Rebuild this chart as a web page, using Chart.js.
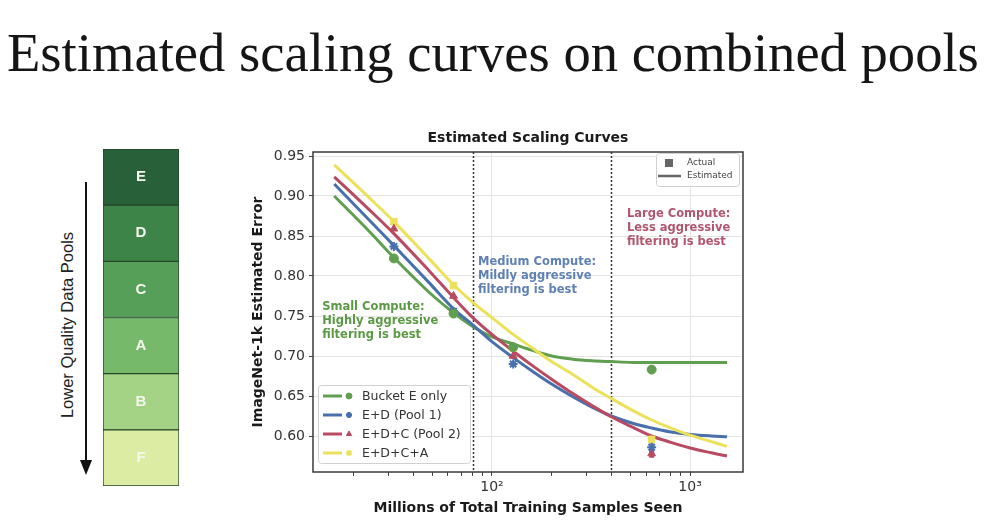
<!DOCTYPE html>
<html>
<head>
<meta charset="utf-8">
<script src="https://cdn.jsdelivr.net/npm/chart.js@4.4.0/dist/chart.umd.min.js"></script>
<style>
  html, body { margin: 0; padding: 0; background: #fff; }
  body { width: 1006px; height: 524px; position: relative; overflow: hidden; }
  #slideTitle {
    position: absolute; left: 7px; top: 21px; white-space: nowrap;
    font-family: "Liberation Serif", serif; font-size: 54.6px; color: #151515;
  }
  #poolCanvas { position: absolute; left: 102px; top: 148px; }
  #arrow { position: absolute; left: 85px; top: 182px; width: 2px; height: 280px; background: #111; }
  #arrowHead {
    position: absolute; left: 80px; top: 460px; width: 0; height: 0;
    border-left: 6px solid transparent; border-right: 6px solid transparent; border-top: 15px solid #111;
  }
  #poolLabel {
    position: absolute; left: 67px; top: 325px; transform: translate(-50%, -50%) rotate(-90deg);
    font-family: "Liberation Sans", sans-serif; font-size: 16.5px; color: #222; white-space: nowrap;
  }
  #scalingCanvas { position: absolute; left: 250px; top: 125px; }
</style>
</head>
<body>
<div id="slideTitle">Estimated scaling curves on combined pools</div>
<canvas id="poolCanvas" width="78" height="339"></canvas>
<div id="arrow"></div>
<div id="arrowHead"></div>
<div id="poolLabel">Lower Quality Data Pools</div>
<canvas id="scalingCanvas" width="500" height="399"></canvas>

<script>
// data pools, top to bottom
const pools = ['E', 'D', 'C', 'A', 'B', 'F'];
const poolShare = [1, 1, 1, 1, 1, 1];
const poolColors = ['#28603a', '#3d8449', '#559f59', '#77b96a', '#a4d386', '#dcedA3'];

// estimated curves (millions of samples -> error)
const fitSamples = [16, 24, 32, 48, 64, 80, 100, 128, 160, 200, 256, 320, 400, 512, 640, 800, 1000, 1280, 1536];
const fitBucketE = [0.900, 0.856, 0.823, 0.780, 0.754, 0.737, 0.724, 0.715, 0.707, 0.700, 0.696, 0.694, 0.693, 0.692, 0.692, 0.692, 0.692, 0.692, 0.692];
const fitPool1   = [0.915, 0.870, 0.838, 0.792, 0.759, 0.739, 0.718, 0.698, 0.681, 0.665, 0.649, 0.636, 0.625, 0.616, 0.610, 0.605, 0.602, 0.600, 0.599];
const fitPool2   = [0.924, 0.883, 0.853, 0.807, 0.773, 0.748, 0.727, 0.706, 0.688, 0.671, 0.653, 0.638, 0.624, 0.611, 0.600, 0.592, 0.585, 0.579, 0.575];
const fitPool3   = [0.939, 0.898, 0.868, 0.822, 0.789, 0.767, 0.748, 0.727, 0.710, 0.693, 0.677, 0.661, 0.647, 0.632, 0.620, 0.610, 0.601, 0.593, 0.587];

// measured points
const actualSamples = [32, 64, 128, 640];
const actualBucketE = [0.822, 0.753, 0.711, 0.683];
const actualPool1   = [0.837, 0.756, 0.690, 0.586];
const actualPool2   = [0.859, 0.775, 0.700, 0.578];
const actualPool3   = [0.868, 0.788, 0.710, 0.596];
const actualErrPool1 = [0, 0, 0, 0.006];
const actualErrPool2 = [0, 0, 0, 0.004];
const actualErrPool3 = [0, 0, 0, 0.004];

const seriesNames = ['Bucket E only', 'E+D (Pool 1)', 'E+D+C (Pool 2)', 'E+D+C+A'];
const computeBoundaries = [80, 400];

const yTicks = [0.60, 0.65, 0.70, 0.75, 0.80, 0.85, 0.90, 0.95];
const xTicks = [20, 30, 40, 50, 60, 70, 80, 90, 100, 200, 300, 400, 500, 600, 700, 800, 900, 1000];
const xMajor = { 100: '10\u00B2', 1000: '10\u00B3' };

const FONT = '"DejaVu Sans", sans-serif';
const colors = ['#5f9f4f', '#4870ad', '#b84a62', '#ece15a'];
const markers = ['circle', 'star', 'triangle', 'rect'];
const fits = [fitBucketE, fitPool1, fitPool2, fitPool3];
const actuals = [actualBucketE, actualPool1, actualPool2, actualPool3];
const actualErrs = [null, actualErrPool1, actualErrPool2, actualErrPool3];

const drawPoint = (ctx, style, r, x, y, color) => {
  ctx.save();
  ctx.fillStyle = color;
  ctx.strokeStyle = color;
  ctx.lineWidth = style === 'star' ? 2 : 1;
  Chart.helpers.drawPoint(ctx, { pointStyle: style, radius: r, borderWidth: ctx.lineWidth, rotation: 0 }, x, y);
  ctx.restore();
};

// ---- left column: stacked pool bar ----
const poolLetters = {
  id: 'poolLetters',
  afterDatasetsDraw(chart) {
    const ctx = chart.ctx;
    ctx.save();
    ctx.font = 'bold 15px "Liberation Sans", sans-serif';
    ctx.fillStyle = '#f4f8ee';
    ctx.textAlign = 'center';
    ctx.textBaseline = 'middle';
    chart.data.datasets.forEach((ds, i) => {
      const el = chart.getDatasetMeta(i).data[0];
      ctx.fillText(ds.label, el.x, (el.y + el.base) / 2);
    });
    ctx.restore();
  }
};

new Chart(document.getElementById('poolCanvas'), {
  type: 'bar',
  data: {
    labels: ['pools'],
    datasets: pools.map((p, i) => ({
      label: p,
      data: [poolShare[i]],
      backgroundColor: poolColors[i],
      borderColor: '#24452a',
      borderWidth: 1,
      borderSkipped: false,
      barPercentage: 1,
      categoryPercentage: 1
    })).reverse()
  },
  options: {
    responsive: false,
    animation: false,
    layout: { padding: 1 },
    plugins: { legend: { display: false }, tooltip: { enabled: false } },
    scales: {
      x: { stacked: true, display: false },
      y: { stacked: true, display: false, min: 0, max: poolShare.reduce((a, b) => a + b, 0) }
    }
  },
  plugins: [poolLetters]
});

// ---- scaling curves ----
const datasets = [];
fits.forEach((f, i) => {
  datasets.push({
    label: seriesNames[i] + ' fit',
    data: fitSamples.map((x, k) => ({ x, y: f[k] })),
    showLine: true,
    borderColor: colors[i],
    borderWidth: 3,
    pointRadius: 0,
    tension: 0.35,
    order: 4 - i
  });
});
actuals.forEach((a, i) => {
  datasets.push({
    label: seriesNames[i],
    data: actualSamples.map((x, k) => ({ x, y: a[k] })),
    showLine: false,
    pointStyle: markers[i],
    pointRadius: 4.5,
    borderWidth: markers[i] === 'star' ? 2 : 1,
    backgroundColor: colors[i],
    borderColor: colors[i],
    order: 0
  });
});

const annotations = [
  { x: 13.9, y: 0.761, color: '#5a9a44', lines: ['Small Compute:', 'Highly aggressive', 'filtering is best'] },
  { x: 85, y: 0.8175, color: '#5f80b3', lines: ['Medium Compute:', 'Mildly aggressive', 'filtering is best'] },
  { x: 480, y: 0.8775, color: '#b2566f', lines: ['Large Compute:', 'Less aggressive', 'filtering is best'] }
];

const decorations = {
  id: 'decorations',
  beforeDatasetsDraw(chart) {
    const { ctx, chartArea: a, scales: { x, y } } = chart;
    ctx.save();
    ctx.strokeStyle = '#333';
    ctx.lineWidth = 1.5;
    ctx.setLineDash([2, 2]);
    computeBoundaries.forEach(v => {
      const px = Math.round(x.getPixelForValue(v)) + 0.5;
      ctx.beginPath();
      ctx.moveTo(px, a.top);
      ctx.lineTo(px, a.bottom);
      ctx.stroke();
    });
    ctx.setLineDash([]);
    // error bars on measured points
    ctx.lineWidth = 2;
    actualErrs.forEach((errs, i) => {
      if (!errs) return;
      ctx.strokeStyle = colors[i];
      errs.forEach((e, k) => {
        if (!e) return;
        const px = x.getPixelForValue(actualSamples[k]);
        const y0 = y.getPixelForValue(actuals[i][k] - e);
        const y1 = y.getPixelForValue(actuals[i][k] + e);
        ctx.beginPath();
        ctx.moveTo(px, y0);
        ctx.lineTo(px, y1);
        ctx.moveTo(px - 2.5, y0);
        ctx.lineTo(px + 2.5, y0);
        ctx.moveTo(px - 2.5, y1);
        ctx.lineTo(px + 2.5, y1);
        ctx.stroke();
      });
    });
    ctx.restore();
  },
  afterDatasetsDraw(chart) {
    const { ctx, chartArea: a, scales: { x, y } } = chart;
    ctx.save();
    // frame
    ctx.strokeStyle = '#3a3a3a';
    ctx.lineWidth = 1.5;
    ctx.strokeRect(a.left, a.top, a.right - a.left, a.bottom - a.top);

    // chart title
    ctx.fillStyle = '#1a1a1a';
    ctx.font = 'bold 14px ' + FONT;
    ctx.textAlign = 'center';
    ctx.textBaseline = 'middle';
    ctx.fillText('Estimated Scaling Curves', (a.left + a.right) / 2, 13);

    // annotations
    ctx.textAlign = 'left';
    ctx.font = 'bold 11.5px ' + FONT;
    annotations.forEach(n => {
      ctx.fillStyle = n.color;
      const px = x.getPixelForValue(n.x), py = y.getPixelForValue(n.y);
      n.lines.forEach((t, k) => ctx.fillText(t, px, py + k * 14));
    });

    // series legend (lower left)
    const lx = a.left + 5, ly = a.bottom - 87;
    ctx.fillStyle = 'rgba(255,255,255,0.85)';
    ctx.strokeStyle = '#d0d0d0';
    ctx.lineWidth = 1;
    ctx.beginPath();
    ctx.roundRect(lx + 0.5, ly + 0.5, 152, 78, 3);
    ctx.fill();
    ctx.stroke();
    ctx.font = '12.5px ' + FONT;
    seriesNames.forEach((name, i) => {
      const ry = ly + 11 + i * 19;
      ctx.strokeStyle = colors[i];
      ctx.lineWidth = 3;
      ctx.beginPath();
      ctx.moveTo(lx + 5, ry);
      ctx.lineTo(lx + 24, ry);
      ctx.stroke();
      drawPoint(ctx, markers[i], 3, lx + 31, ry, colors[i]);
      ctx.fillStyle = '#333';
      ctx.fillText(name, lx + 44, ry + 1);
    });

    // actual / estimated legend (top right)
    const rx = a.right - 87, ry = a.top + 1;
    ctx.fillStyle = 'rgba(255,255,255,0.85)';
    ctx.strokeStyle = '#d0d0d0';
    ctx.lineWidth = 1;
    ctx.beginPath();
    ctx.roundRect(rx + 0.5, ry + 0.5, 83, 33, 3);
    ctx.fill();
    ctx.stroke();
    ctx.fillStyle = '#666';
    ctx.fillRect(rx + 9, ry + 6, 8, 8);
    ctx.strokeStyle = '#666';
    ctx.lineWidth = 2.5;
    ctx.beginPath();
    ctx.moveTo(rx + 2, ry + 23);
    ctx.lineTo(rx + 25, ry + 23);
    ctx.stroke();
    ctx.fillStyle = '#444';
    ctx.font = '9px ' + FONT;
    ctx.fillText('Actual', rx + 31, ry + 10);
    ctx.fillText('Estimated', rx + 31, ry + 23);
    ctx.restore();
  }
};

new Chart(document.getElementById('scalingCanvas'), {
  type: 'scatter',
  data: { datasets },
  options: {
    responsive: false,
    animation: false,
    layout: { padding: { top: 27, right: 7, bottom: 0, left: 0 } },
    plugins: { legend: { display: false }, tooltip: { enabled: false } },
    scales: {
      x: {
        type: 'logarithmic',
        min: 12.5,
        max: 1850,
        afterFit: s => { s.height = 52; },
        afterBuildTicks: s => { s.ticks = xTicks.map(v => ({ value: v, major: v in xMajor })); },
        ticks: {
          autoSkip: false, maxRotation: 0, padding: 3,
          color: '#333', font: { family: FONT, size: 14 },
          callback: v => xMajor[v] || ''
        },
        grid: {
          color: c => (c.tick && xMajor[c.tick.value]) ? '#e4e4e4' : 'rgba(0,0,0,0)',
          tickColor: '#444', tickLength: 4
        },
        border: { display: false },
        title: {
          display: true, text: 'Millions of Total Training Samples Seen',
          color: '#1a1a1a', font: { family: FONT, size: 14, weight: 'bold' },
          padding: { top: 0, bottom: 7 }
        }
      },
      y: {
        min: 0.555,
        max: 0.955,
        afterFit: s => { s.width = 63; },
        afterBuildTicks: s => { s.ticks = yTicks.map(v => ({ value: v })); },
        ticks: {
          padding: 4, color: '#333', font: { family: FONT, size: 14 },
          callback: v => v.toFixed(2)
        },
        grid: { color: '#e4e4e4', tickColor: '#444', tickLength: 4 },
        border: { display: false },
        title: {
          display: true, text: 'ImageNet-1k Estimated Error',
          color: '#1a1a1a', font: { family: FONT, size: 14, weight: 'bold' },
          padding: { top: 0, bottom: 0 }
        }
      }
    }
  },
  plugins: [decorations]
});
</script>
</body>
</html>
